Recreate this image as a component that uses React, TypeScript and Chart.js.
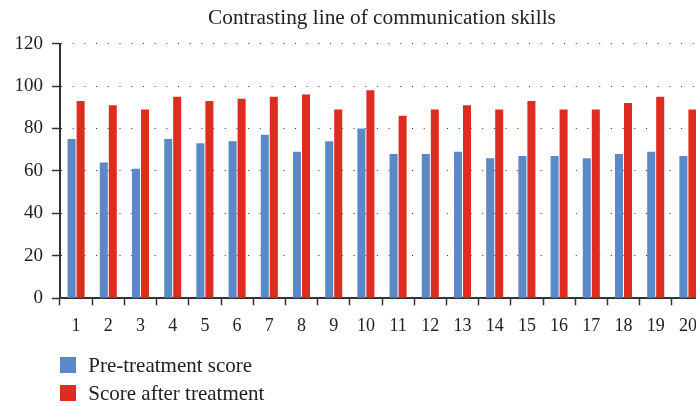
import React, { useEffect, useRef } from "react";
import { Chart, registerables } from "chart.js";

Chart.register(...registerables);

const categories = ["1","2","3","4","5","6","7","8","9","10","11","12","13","14","15","16","17","18","19","20"];
const preTreatment = [75, 64, 61, 75, 73, 74, 77, 69, 74, 80, 68, 68, 69, 66, 67, 67, 66, 68, 69, 67];
const afterTreatment = [93, 91, 89, 95, 93, 94, 95, 96, 89, 98, 86, 89, 91, 89, 93, 89, 89, 92, 95, 89];
const seriesNames = ["Pre-treatment score", "Score after treatment"];
const seriesColors = ["#5b88c6", "#de2c20"];
const titleText = "Contrasting line of communication skills";
const yMin = 0;
const yMax = 120;
const yStep = 20;

const FONT = "'Liberation Serif', 'Times New Roman', serif";

// Center the title over the plot area instead of the full canvas width
const titleOverPlot = {
  id: "titleOverPlot",
  afterLayout(chart: any) {
    const t = chart.titleBlock;
    const ca = chart.chartArea;
    if (t && ca) {
      t.left = ca.left;
      t.right = ca.right;
      t.width = ca.right - ca.left;
    }
  },
};

export default function App() {
  const ref = useRef<HTMLCanvasElement>(null);

  useEffect(() => {
    const body = document.body.style;
    const prevMB = body.marginBottom;
    const prevMR = body.marginRight;
    body.marginBottom = "0px";
    body.marginRight = "0px";
    const chart = new Chart(ref.current as HTMLCanvasElement, {
      type: "bar",
      data: {
        labels: categories,
        datasets: [
          {
            label: seriesNames[0],
            data: preTreatment,
            backgroundColor: seriesColors[0],
            categoryPercentage: 0.56,
            barPercentage: 0.89,
          },
          {
            label: seriesNames[1],
            data: afterTreatment,
            backgroundColor: seriesColors[1],
            categoryPercentage: 0.56,
            barPercentage: 0.89,
          },
        ],
      },
      plugins: [titleOverPlot],
      options: {
        animation: false,
        responsive: true,
        maintainAspectRatio: false,
        layout: { padding: { left: 0, right: 14, top: 0, bottom: 65.7 } },
        plugins: {
          legend: { display: false },
          tooltip: { enabled: false },
          title: {
            display: true,
            text: titleText,
            color: "#222",
            font: { family: FONT, size: 21.3, weight: "normal", lineHeight: 1 },
            padding: { top: 0, bottom: 14.3 },
          },
        },
        scales: {
          x: {
            afterFit: (s: any) => { s.height = 40; },
            grid: {
              offset: true,
              drawOnChartArea: false,
              drawTicks: true,
              tickLength: 7,
              tickColor: "#333",
              tickWidth: 1.5,
            },
            border: { color: "#333", width: 2 },
            ticks: {
              color: "#222",
              padding: 10,
              font: { family: FONT, size: 18 },
              maxRotation: 0,
              autoSkip: false,
            },
          },
          y: {
            min: yMin,
            max: yMax,
            afterFit: (s: any) => { s.width = 52; },
            grid: {
              color: "#333",
              lineWidth: 1,
              drawTicks: true,
              tickLength: 8,
              tickColor: "#333",
              tickWidth: 1.5,
              tickBorderDash: [],
            },
            border: { color: "#333", width: 2, dash: [1, 10.7] },
            ticks: {
              stepSize: yStep,
              color: "#222",
              padding: 9,
              font: { family: FONT, size: 19 },
            },
          },
        },
      },
    });
    return () => {
      chart.destroy();
      body.marginBottom = prevMB;
      body.marginRight = prevMR;
    };
  }, []);

  return (
    <div style={{ position: "relative", width: 688, height: 398, overflow: "hidden" }}>
      <div style={{ position: "absolute", left: 0, top: 0, width: 710, height: 396 }}>
        <canvas ref={ref} />
      </div>
      {seriesNames.map((name, i) => (
        <React.Fragment key={name}>
          <div
            style={{
              position: "absolute",
              left: 52,
              top: 349.3 + i * 27.7,
              width: 16,
              height: 16,
              background: seriesColors[i],
            }}
          />
          <div
            style={{
              position: "absolute",
              left: 80.3,
              top: 347.3 + i * 27.7,
              fontFamily: FONT,
              fontSize: 21,
              lineHeight: "21px",
              color: "#222",
              whiteSpace: "nowrap",
            }}
          >
            {name}
          </div>
        </React.Fragment>
      ))}
    </div>
  );
}
